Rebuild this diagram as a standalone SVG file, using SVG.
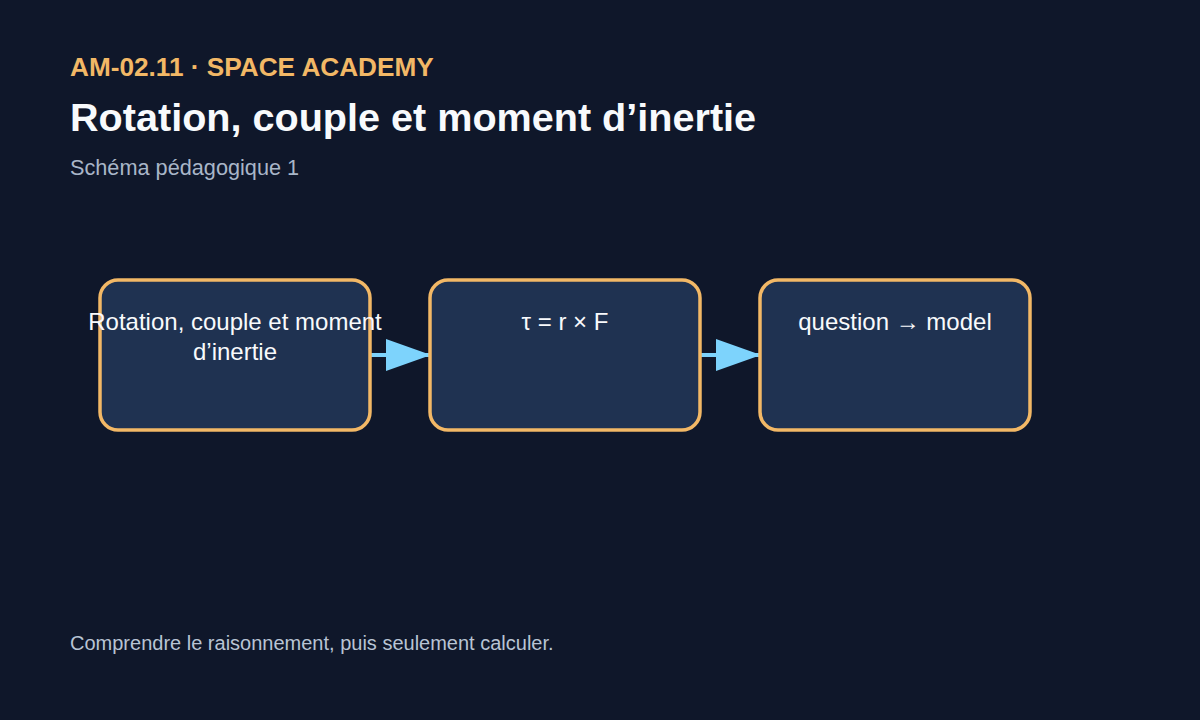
<svg xmlns="http://www.w3.org/2000/svg" width="1200" height="720" viewBox="0 0 1200 720">
<defs>
<style>
.bg{fill:#0f172a}
.box{fill:#1f3251;stroke:#f2b866;stroke-width:3.5}
.lbl{font-family:"Liberation Sans",Arial,sans-serif;font-size:24px;fill:#f8fafc;text-anchor:middle}
.conn{stroke:#7dd3fc;stroke-width:4;fill:none}
</style>
<marker id="arr" markerUnits="userSpaceOnUse" markerWidth="46" markerHeight="32" refX="45" refY="16" orient="auto">
<path d="M0,0 L45,16 L0,32 z" fill="#7dd3fc"/>
</marker>
</defs>
<rect class="bg" x="0" y="0" width="1200" height="720"/>
<text x="70" y="76" font-family="'Liberation Sans',Arial,sans-serif" font-size="26.2" font-weight="bold" fill="#f2b866">AM-02.11 · SPACE ACADEMY</text>
<text x="70" y="131" font-family="'Liberation Sans',Arial,sans-serif" font-size="39.6" font-weight="bold" fill="#f8fafc">Rotation, couple et moment d’inertie</text>
<text x="70" y="175" font-family="'Liberation Sans',Arial,sans-serif" font-size="21.7" fill="#a9b6c8">Schéma pédagogique 1</text>
<g id="connectors">
<line class="conn" x1="370" y1="355" x2="431" y2="355" marker-end="url(#arr)"/>
<line class="conn" x1="700" y1="355" x2="761" y2="355" marker-end="url(#arr)"/>
</g>
<g id="node1">
<rect class="box" x="100" y="280" width="270" height="150" rx="18"/>
<text class="lbl" x="235" y="330">Rotation, couple et moment</text>
<text class="lbl" x="235" y="360">d’inertie</text>
</g>
<g id="node2">
<rect class="box" x="430" y="280" width="270" height="150" rx="18"/>
<text class="lbl" x="565" y="330">τ = r × F</text>
</g>
<g id="node3">
<rect class="box" x="760" y="280" width="270" height="150" rx="18"/>
<text class="lbl" x="895" y="330">question → model</text>
</g>
<text x="70" y="650" font-family="'Liberation Sans',Arial,sans-serif" font-size="20" fill="#b8c4d4">Comprendre le raisonnement, puis seulement calculer.</text>
</svg>
